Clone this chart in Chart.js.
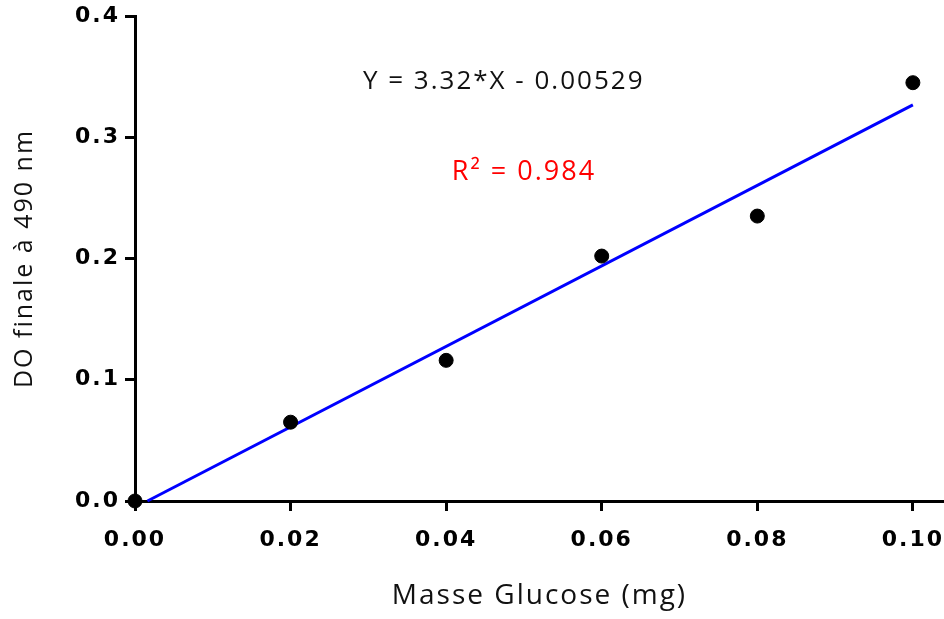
<!DOCTYPE html>
<html>
<head>
<meta charset="utf-8">
<script src="https://cdn.jsdelivr.net/npm/chart.js@4"></script>
<style>
  html, body { margin: 0; padding: 0; background: #fff; }
  #wrap { width: 944px; height: 619px; }
</style>
</head>
<body>
<div id="wrap"><canvas id="chart" width="944" height="619"></canvas></div>
<script>
// Data
const masse = [0, 0.02, 0.04, 0.06, 0.08, 0.10];
const doFinale = [0, 0.065, 0.116, 0.202, 0.235, 0.345];

// Linear fit Y = 3.32*X - 0.00529, from the intercept up to the last point
const fitX = [0.0016, 0.10];
const fitY = [0, 0.3267];

const xTicks = [0, 0.02, 0.04, 0.06, 0.08, 0.10];
const yTicks = [0, 0.1, 0.2, 0.3, 0.4];

const equationText = 'Y = 3.32*X - 0.00529';
const r2Text = 'R² = 0.984';

const TICK_FONT = { family: "'DejaVu Sans', sans-serif", size: 22, weight: 'bold' };

// a little extra spacing between letters, like the original typeface
const spacing = {
  id: 'spacing',
  beforeDraw(chart) { chart.ctx.letterSpacing = '2px'; }
};

// Equation and R² written inside the plot
const annotations = {
  id: 'annotations',
  afterDatasetsDraw(chart) {
    const { ctx, scales: { x, y } } = chart;
    ctx.save();
    ctx.textAlign = 'center';
    ctx.textBaseline = 'middle';
    ctx.font = "26px 'Open Sans', sans-serif";
    ctx.fillStyle = '#111';
    ctx.fillText(equationText, x.getPixelForValue(0.0474), y.getPixelForValue(0.346));
    ctx.font = "27px 'Open Sans', sans-serif";
    ctx.fillStyle = '#ff0000';
    ctx.fillText(r2Text, x.getPixelForValue(0.0500), y.getPixelForValue(0.271));
    ctx.restore();
  }
};

new Chart(document.getElementById('chart'), {
  type: 'scatter',
  data: {
    datasets: [
      {
        label: 'Régression',
        type: 'line',
        data: fitX.map((v, i) => ({ x: v, y: fitY[i] })),
        borderColor: '#0000ff',
        borderWidth: 3,
        pointRadius: 0,
        fill: false,
        clip: false,
        order: 2
      },
      {
        label: 'DO',
        data: masse.map((v, i) => ({ x: v, y: doFinale[i] })),
        backgroundColor: '#000',
        borderColor: '#000',
        pointRadius: 7,
        pointHoverRadius: 7,
        clip: false,
        order: 1
      }
    ]
  },
  options: {
    responsive: false,
    animation: false,
    layout: { autoPadding: false, padding: { top: 16, right: 0, left: 0, bottom: 0 } },
    plugins: {
      legend: { display: false },
      tooltip: { enabled: false }
    },
    scales: {
      x: {
        type: 'linear',
        min: 0,
        max: 0.104,
        afterBuildTicks: s => { s.ticks = xTicks.map(v => ({ value: v })); },
        afterFit: s => {
          s.height = 118;
          s.paddingLeft = 0;
          s.paddingRight = 0;
          if (s._margins) { s._margins.left = 0; s._margins.right = 0; }
        },
        border: { color: '#000', width: 3 },
        grid: {
          drawOnChartArea: false, drawTicks: true,
          color: '#000', lineWidth: 3,
          tickColor: '#000', tickWidth: 3, tickLength: 10
        },
        ticks: {
          color: '#000',
          font: TICK_FONT,
          padding: 16,
          maxRotation: 0,
          callback: v => v.toFixed(2)
        },
        title: {
          display: true,
          text: 'Masse Glucose (mg)',
          color: '#111',
          font: { family: "'Open Sans', sans-serif", size: 28 },
          padding: { top: 0, bottom: 6 }
        }
      },
      y: {
        type: 'linear',
        min: 0,
        max: 0.4,
        afterBuildTicks: s => { s.ticks = yTicks.map(v => ({ value: v })); },
        afterFit: s => { s.width = 135; s.paddingTop = 0; s.paddingBottom = 0; },
        border: { color: '#000', width: 3 },
        grid: {
          drawOnChartArea: false, drawTicks: true,
          color: '#000', lineWidth: 3,
          tickColor: '#000', tickWidth: 3, tickLength: 10
        },
        ticks: {
          color: '#000',
          font: TICK_FONT,
          padding: 5,
          callback: v => v.toFixed(1)
        },
        title: {
          display: true,
          text: 'DO finale à 490 nm',
          color: '#111',
          font: { family: "'Open Sans', sans-serif", size: 25 },
          padding: { top: 10, bottom: 0 }
        }
      }
    }
  },
  plugins: [spacing, annotations]
});
</script>
</body>
</html>
